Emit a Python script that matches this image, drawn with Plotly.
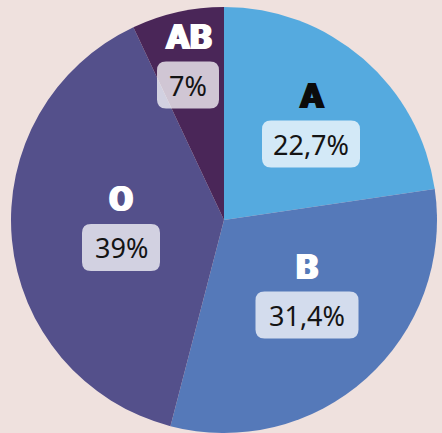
import plotly.graph_objects as go

# ---- data ----
groups = ["A", "B", "O", "AB"]
shares = [22.7, 31.4, 39.0, 7.0]
share_labels = ["22,7%", "31,4%", "39%", "7%"]

# ---- style ----
slice_colors = ["#55aadf", "#5579b9", "#54508b", "#4a2658"]
title_colors = ["#0b0b0b", "#ffffff", "#ffffff", "#ffffff"]
label_px = [(311, 120.5), (307, 291.5), (121, 224), (188, 61.5)]  # label group centers (px from top-left)
box_w = [98, 103, 78, 62]
box_h = 47
W, H = 442, 433
CX, CY, R = 224, 220, 213
BG = "#efe1de"

fig = go.Figure(go.Pie(
    labels=groups, values=shares, sort=False, direction="clockwise", rotation=0,
    marker=dict(colors=slice_colors, line=dict(width=0)),
    textinfo="none", hoverinfo="label+percent", showlegend=False,
    domain=dict(x=[(CX - R) / W, (CX + R) / W], y=[(H - CY - R) / H, (H - CY + R) / H]),
))

annotations, shapes = [], []
for g, lab, tc, (px, py), bw in zip(groups, share_labels, title_colors, label_px, box_w):
    xp, yp = px / W, (H - py) / H
    annotations.append(dict(
        x=xp, y=yp, xref="paper", yref="paper", text=g, showarrow=False,
        xanchor="center", yanchor="middle",
        yshift=24.5,
        font=dict(family="Roboto, Lato, DejaVu Sans", size=35, color=tc, weight=900,
                  shadow=f"1px 0 0 {tc}, -1px 0 0 {tc}"),
    ))
    annotations.append(dict(
        x=xp, y=yp, xref="paper", yref="paper", text=lab, showarrow=False,
        xanchor="center", yanchor="middle",
        yshift=-23.5, font=dict(family="Noto Sans, Open Sans", size=27, color="#141414"),
    ))
    # rounded box behind the share label
    hw, hh, r = bw / 2, box_h / 2, 9
    ybase = -23.5
    path = (f"M {-hw + r},{ybase - hh} L {hw - r},{ybase - hh} Q {hw},{ybase - hh} {hw},{ybase - hh + r} "
            f"L {hw},{ybase + hh - r} Q {hw},{ybase + hh} {hw - r},{ybase + hh} "
            f"L {-hw + r},{ybase + hh} Q {-hw},{ybase + hh} {-hw},{ybase + hh - r} "
            f"L {-hw},{ybase - hh + r} Q {-hw},{ybase - hh} {-hw + r},{ybase - hh} Z")
    shapes.append(dict(
        type="path", xref="paper", yref="paper", xsizemode="pixel", ysizemode="pixel",
        xanchor=xp, yanchor=yp, path=path, fillcolor="rgba(255,255,255,0.74)",
        line=dict(width=0), layer="above",
    ))

fig.update_layout(
    width=W, height=H, margin=dict(l=0, r=0, t=0, b=0),
    paper_bgcolor=BG, plot_bgcolor=BG,
    annotations=annotations, shapes=shapes,
)

fig.write_html("out.html", config={"displayModeBar": False},
               post_script="document.body.style.margin='0';document.body.style.background='" + BG + "';")
